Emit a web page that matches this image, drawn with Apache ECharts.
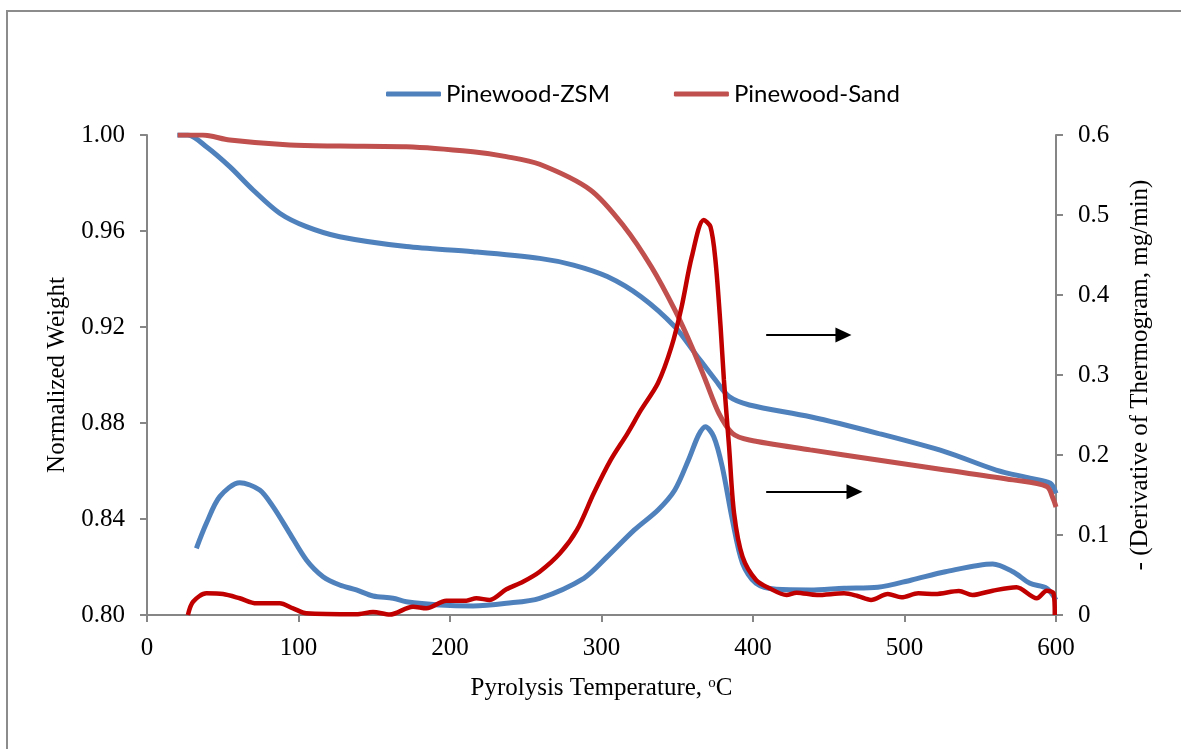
<!DOCTYPE html>
<html>
<head>
<meta charset="utf-8">
<script src="https://cdn.jsdelivr.net/npm/echarts@6/dist/echarts.min.js"></script>
<style>
  html, body { margin: 0; padding: 0; background: #fff; }
  #chart { width: 1181px; height: 749px; }
</style>
</head>
<body>
<div id="chart"></div>
<script>
// ---- Data ----
const xTicks = [0, 100, 200, 300, 400, 500, 600];

// Normalized weight, Pinewood-ZSM (left axis)
const zsmWeightT = [20, 26.9, 39.2, 54.6, 70, 87.6, 105.2, 127.2, 171.2, 215.2, 259.2, 281.5, 303.8, 326.1, 348.4, 361.8, 375.2, 384.2, 397.6, 437.8, 482.4, 527, 560.5, 582.8, 596.2, 600];
const zsmWeight  = [1.000, 1.000, 0.9951, 0.9868, 0.9771, 0.9674, 0.9618, 0.9576, 0.9535, 0.9514, 0.9486, 0.9458, 0.9410, 0.9326, 0.9201, 0.9090, 0.8979, 0.8910, 0.8875, 0.8826, 0.8757, 0.8680, 0.8604, 0.8570, 0.8549, 0.8507];

// Normalized weight, Pinewood-Sand (left axis)
const sandWeightT = [20.3, 36.8, 54.6, 94.2, 127.2, 171.2, 215.2, 237.2, 259.2, 292.7, 315, 332.9, 348.4, 359.6, 368.6, 377.5, 386.4, 397.6, 437.8, 482.4, 527, 571.6, 593.9, 598.4, 600];
const sandWeight  = [1.000, 1.000, 0.9979, 0.9958, 0.9954, 0.9951, 0.9930, 0.9910, 0.9878, 0.9771, 0.9618, 0.9451, 0.9271, 0.9118, 0.8979, 0.8840, 0.8757, 0.8729, 0.8688, 0.8646, 0.8604, 0.8563, 0.8535, 0.8480, 0.8450];

// Derivative of thermogram, Pinewood-ZSM (right axis)
const zsmDtgT = [32.6, 39.2, 48, 61.2, 74.4, 83.2, 94.2, 105.2, 116.2, 127.2, 138.2, 149.2, 162.4, 171.2, 193.2, 215.2, 237.2, 259.2, 288.3, 303.8, 321.7, 337.3, 348.4, 357.4, 364.1, 368.6, 374.1, 379.7, 386.4, 393.1, 402, 415.4, 437.8, 460.1, 482.4, 504.7, 527, 558.2, 571.6, 582.8, 593.9, 600];
const zsmDtg  = [0.0834, 0.1146, 0.1479, 0.1654, 0.1563, 0.1354, 0.1021, 0.0688, 0.0479, 0.0375, 0.0313, 0.0238, 0.0209, 0.0166, 0.0125, 0.0113, 0.0146, 0.0209, 0.0459, 0.0729, 0.1063, 0.1313, 0.1563, 0.1938, 0.2250, 0.2354, 0.2229, 0.1854, 0.1188, 0.0646, 0.0396, 0.0321, 0.0313, 0.0334, 0.0346, 0.0438, 0.0541, 0.0638, 0.0541, 0.0396, 0.0334, 0.0188];

// Derivative of thermogram, Pinewood-Sand (right axis)
const sandDtgT = [27, 30.4, 39.2, 50.2, 61.2, 72.2, 87.6, 96.4, 105.2, 138.2, 149.2, 160.2, 175.6, 184.4, 197.6, 210.8, 217.4, 226.2, 237.2, 248.2, 259.2, 272.6, 283.8, 294.9, 306.1, 317.2, 326.1, 337.3, 346.2, 352.9, 359.6, 367.5, 371.9, 375.2, 378.6, 380.8, 384.2, 387.5, 393.1, 402, 410.9, 422.1, 428.8, 442.2, 460.1, 469, 477.9, 489, 498, 509.1, 520.3, 535.9, 544.8, 558.2, 573.9, 587.3, 593.9, 598.4, 599.2];
const sandDtg  = [0, 0.0166, 0.0271, 0.0262, 0.0209, 0.0146, 0.0146, 0.0083, 0.0021, 0.0009, 0.0038, 0.0005, 0.0104, 0.0083, 0.0179, 0.0179, 0.0209, 0.0188, 0.0321, 0.0416, 0.0541, 0.0771, 0.1063, 0.1521, 0.1938, 0.2271, 0.2563, 0.2900, 0.3354, 0.3854, 0.4479, 0.4938, 0.4854, 0.4438, 0.3604, 0.2938, 0.2104, 0.1271, 0.0729, 0.0438, 0.0334, 0.0250, 0.0279, 0.0250, 0.0271, 0.0238, 0.0188, 0.0262, 0.0221, 0.0271, 0.0262, 0.0300, 0.0250, 0.0304, 0.0346, 0.0209, 0.0304, 0.0271, 0];

// Annotation arrows (data coords on left axis): [startT, endT, weight]
const arrowSpans = [[408.7, 459.7, 0.9167], [408.7, 467.0, 0.8514]];

const zip = (xs, ys) => xs.map((x, i) => [x, ys[i]]);

const serif = '"Liberation Serif", "Times New Roman", serif';
const axisGray = '#868686';
const BLUE = '#4f81bd', SAND = '#c0504d', DARKRED = '#c00000';

const chart = echarts.init(document.getElementById('chart'), null, { renderer: 'canvas' });

chart.setOption({
  backgroundColor: '#ffffff',
  animation: false,
  graphic: [{
    type: 'rect', silent: true, z: -10,
    shape: { x: 7, y: 11, width: 1300, height: 1000 },
    style: { fill: 'none', stroke: '#8c8c8c', lineWidth: 2 }
  }],
  legend: {
    top: 77, left: 381,
    data: ['Pinewood-ZSM', 'Pinewood-Sand'],
    itemWidth: 55, itemHeight: 5, itemGap: 64,
    icon: 'roundRect',
    textStyle: { fontFamily: 'Lato, "Open Sans", sans-serif', fontSize: 24, color: '#000' }
  },
  grid: { left: 147, right: 125, top: 135, bottom: 134, containLabel: false },
  xAxis: {
    type: 'value', min: 0, max: 600, interval: 100,
    name: '{n|Pyrolysis Temperature, }{s|o}{n|C}',
    nameLocation: 'middle', nameGap: 61,
    nameTextStyle: {
      rich: {
        n: { fontFamily: serif, fontSize: 25, color: '#000' },
        s: { fontFamily: serif, fontSize: 15, color: '#000', verticalAlign: 'top', padding: [0, 0, 10, 0] }
      }
    },
    axisLine: { lineStyle: { color: axisGray, width: 2 } },
    axisTick: { inside: false, length: 7, lineStyle: { color: axisGray, width: 2 } },
    axisLabel: { margin: 21, fontFamily: serif, fontSize: 25, color: '#000' },
    splitLine: { show: false }
  },
  yAxis: [{
    type: 'value', min: 0.8, max: 1.0, interval: 0.04, position: 'left',
    name: 'Normalized Weight', nameLocation: 'middle', nameGap: 76,
    nameTextStyle: { fontFamily: serif, fontSize: 25, color: '#000' },
    axisLine: { show: true, lineStyle: { color: axisGray, width: 2 } },
    axisTick: { show: true, length: 7, lineStyle: { color: axisGray, width: 2 } },
    axisLabel: { margin: 22, fontFamily: serif, fontSize: 25, color: '#000', formatter: v => v.toFixed(2) },
    splitLine: { show: false }
  }, {
    type: 'value', min: 0, max: 0.6, interval: 0.1, position: 'right',
    name: '- (Derivative of Thermogram, mg/min)', nameLocation: 'middle', nameGap: 72, nameRotate: 90,
    nameTextStyle: { fontFamily: serif, fontSize: 25, color: '#000' },
    axisLine: { show: true, lineStyle: { color: axisGray, width: 2 } },
    axisTick: { show: true, length: 7, lineStyle: { color: axisGray, width: 2 } },
    axisLabel: { margin: 22, fontFamily: serif, fontSize: 25, color: '#000', formatter: v => (v === 0 ? '0' : v.toFixed(1)) },
    splitLine: { show: false }
  }],
  series: [{
    name: 'Pinewood-ZSM', type: 'line', yAxisIndex: 0,
    data: zip(zsmWeightT, zsmWeight), showSymbol: false, smooth: 0.3,
    itemStyle: { color: BLUE }, lineStyle: { color: BLUE, width: 5 },
    markLine: {
      silent: true, symbol: ['none', 'triangle'], symbolSize: [15, 16],
      label: { show: false },
      lineStyle: { color: '#000', width: 2, type: 'solid' },
      data: arrowSpans.map(a => [{ coord: [a[0], a[2]] }, { coord: [a[1], a[2]] }])
    }
  }, {
    name: 'Pinewood-Sand', type: 'line', yAxisIndex: 0,
    data: zip(sandWeightT, sandWeight), showSymbol: false, smooth: 0.3,
    itemStyle: { color: SAND }, lineStyle: { color: SAND, width: 5 }
  }, {
    name: 'Pinewood-ZSM DTG', type: 'line', yAxisIndex: 1,
    data: zip(zsmDtgT, zsmDtg), showSymbol: false, smooth: 0.3,
    itemStyle: { color: BLUE }, lineStyle: { color: BLUE, width: 5 }
  }, {
    name: 'Pinewood-Sand DTG', type: 'line', yAxisIndex: 1,
    data: zip(sandDtgT, sandDtg), showSymbol: false, smooth: 0.3,
    itemStyle: { color: DARKRED }, lineStyle: { color: DARKRED, width: 4.5 }
  }]
});
</script>
</body>
</html>
